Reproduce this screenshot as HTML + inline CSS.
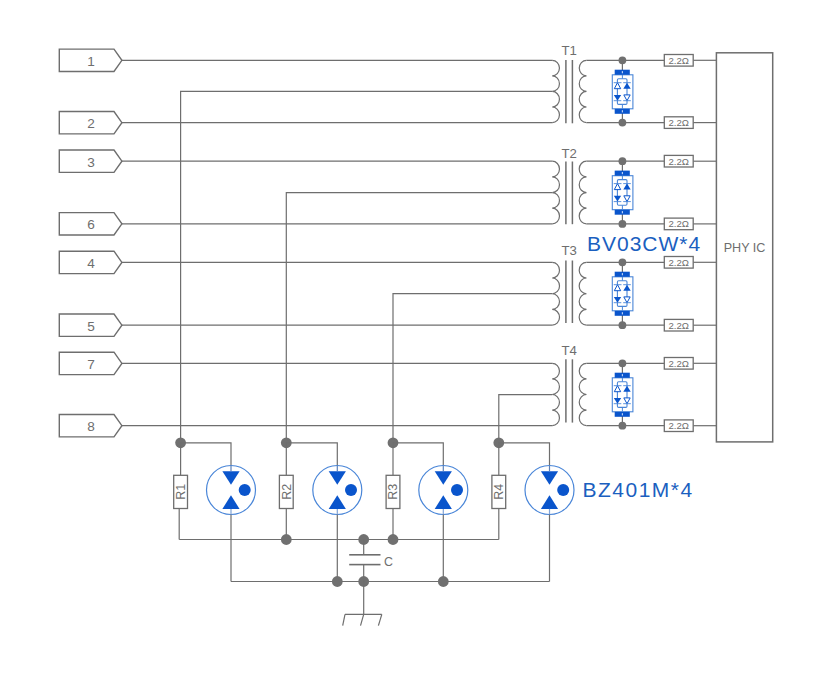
<!DOCTYPE html>
<html><head><meta charset="utf-8"><style>
html,body{margin:0;padding:0;background:#fff;}
body{width:832px;height:675px;overflow:hidden;}
svg{display:block;font-family:"Liberation Sans", sans-serif;}
</style></head><body>
<svg width="832" height="675" viewBox="0 0 832 675">
<rect width="832" height="675" fill="#fff"/>
<polygon points="59.3,49.09 114,49.09 121.9,60.3 114,71.5 59.3,71.5" fill="none" stroke="#6e6e6e" stroke-width="1.4"/>
<text x="91" y="65.8" font-size="13.6" fill="#6e6e6e" text-anchor="middle" >1</text>
<polygon points="59.3,111.5 114,111.5 121.9,122.7 114,133.9 59.3,133.9" fill="none" stroke="#6e6e6e" stroke-width="1.4"/>
<text x="91" y="128.2" font-size="13.6" fill="#6e6e6e" text-anchor="middle" >2</text>
<polygon points="59.3,150.0 114,150.0 121.9,161.2 114,172.39 59.3,172.39" fill="none" stroke="#6e6e6e" stroke-width="1.4"/>
<text x="91" y="166.7" font-size="13.6" fill="#6e6e6e" text-anchor="middle" >3</text>
<polygon points="59.3,212.60 114,212.60 121.9,223.8 114,235.0 59.3,235.0" fill="none" stroke="#6e6e6e" stroke-width="1.4"/>
<text x="91" y="229.3" font-size="13.6" fill="#6e6e6e" text-anchor="middle" >6</text>
<polygon points="59.3,251.2 114,251.2 121.9,262.4 114,273.59 59.3,273.59" fill="none" stroke="#6e6e6e" stroke-width="1.4"/>
<text x="91" y="267.9" font-size="13.6" fill="#6e6e6e" text-anchor="middle" >4</text>
<polygon points="59.3,314.0 114,314.0 121.9,325.2 114,336.4 59.3,336.4" fill="none" stroke="#6e6e6e" stroke-width="1.4"/>
<text x="91" y="330.7" font-size="13.6" fill="#6e6e6e" text-anchor="middle" >5</text>
<polygon points="59.3,352.2 114,352.2 121.9,363.4 114,374.59 59.3,374.59" fill="none" stroke="#6e6e6e" stroke-width="1.4"/>
<text x="91" y="368.9" font-size="13.6" fill="#6e6e6e" text-anchor="middle" >7</text>
<polygon points="59.3,414.5 114,414.5 121.9,425.7 114,436.9 59.3,436.9" fill="none" stroke="#6e6e6e" stroke-width="1.4"/>
<text x="91" y="431.2" font-size="13.6" fill="#6e6e6e" text-anchor="middle" >8</text>
<line x1="121.9" y1="60.3" x2="552.2" y2="60.3" stroke="#6e6e6e" stroke-width="1.2"/>
<line x1="121.9" y1="122.6" x2="552.2" y2="122.6" stroke="#6e6e6e" stroke-width="1.2"/>
<path d="M552.2,60.3 A7.24,7.78 0 0 1 552.2,75.87 A7.24,7.78 0 0 1 552.2,91.44 A7.24,7.78 0 0 1 552.2,107.02 A7.24,7.78 0 0 1 552.2,122.6" fill="none" stroke="#6e6e6e" stroke-width="1.2"/>
<path d="M586.5,60.3 A7.24,7.78 0 0 0 586.5,75.87 A7.24,7.78 0 0 0 586.5,91.44 A7.24,7.78 0 0 0 586.5,107.02 A7.24,7.78 0 0 0 586.5,122.6" fill="none" stroke="#6e6e6e" stroke-width="1.2"/>
<line x1="565.9" y1="60.0" x2="565.9" y2="123.3" stroke="#6e6e6e" stroke-width="1.5"/>
<line x1="572.4" y1="60.0" x2="572.4" y2="123.3" stroke="#6e6e6e" stroke-width="1.5"/>
<text x="569.2" y="55.2" font-size="13.2" fill="#6e6e6e" text-anchor="middle" >T1</text>
<polyline points="180.6,442.8 180.6,91.3 552.2,91.3" fill="none" stroke="#6e6e6e" stroke-width="1.2"/>
<line x1="586.5" y1="60.3" x2="664.3" y2="60.3" stroke="#6e6e6e" stroke-width="1.2"/>
<line x1="693.2" y1="60.3" x2="716.4" y2="60.3" stroke="#6e6e6e" stroke-width="1.2"/>
<rect x="664.3" y="54.5" width="28.9" height="11.6" fill="#fff" stroke="#6e6e6e" stroke-width="1.3"/>
<text x="678.8" y="63.8" font-size="9.6" fill="#6e6e6e" text-anchor="middle" >2.2Ω</text>
<line x1="586.5" y1="122.6" x2="664.3" y2="122.6" stroke="#6e6e6e" stroke-width="1.2"/>
<line x1="693.2" y1="122.6" x2="716.4" y2="122.6" stroke="#6e6e6e" stroke-width="1.2"/>
<rect x="664.3" y="116.8" width="28.9" height="11.6" fill="#fff" stroke="#6e6e6e" stroke-width="1.3"/>
<text x="678.8" y="126.1" font-size="9.6" fill="#6e6e6e" text-anchor="middle" >2.2Ω</text>
<line x1="622.4" y1="60.3" x2="622.4" y2="122.6" stroke="#6e6e6e" stroke-width="1.2"/>
<circle cx="622.4" cy="60.3" r="3.9" fill="#707070"/>
<circle cx="622.4" cy="122.6" r="3.9" fill="#707070"/>
<rect x="612.3" y="74.8" width="20.6" height="34.0" fill="#fff" stroke="#4a86d8" stroke-width="1.1"/>
<rect x="614.7" y="69.7" width="15.1" height="5.09" fill="#0a55cc"/>
<rect x="614.7" y="108.8" width="15.1" height="5.0" fill="#0a55cc"/>
<rect x="621.8" y="71.10" width="1.2" height="2.2" fill="#b8cff5"/>
<rect x="621.8" y="110.2" width="1.2" height="2.2" fill="#b8cff5"/>
<rect x="617.4" y="78.69" width="9.6" height="25.70" rx="1.2" fill="none" stroke="#4a86d8" stroke-width="1.1"/>
<line x1="622.4" y1="74.8" x2="622.4" y2="78.69" stroke="#4a86d8" stroke-width="1"/>
<line x1="622.4" y1="104.4" x2="622.4" y2="108.8" stroke="#4a86d8" stroke-width="1"/>
<polygon points="614.3,88.69 620.7,88.69 617.5,82.69" fill="#fff" stroke="#0a55cc" stroke-width="1"/>
<line x1="613.7" y1="82.69" x2="621.5" y2="82.69" stroke="#4a86d8" stroke-width="0.9"/>
<polygon points="623.3,88.69 630.7,88.69 627.0,82.69" fill="#0a55cc"/>
<line x1="623.2" y1="82.69" x2="630.8" y2="82.69" stroke="#4a86d8" stroke-width="0.9"/>
<polygon points="613.8,94.9 621.2,94.9 617.5,100.69" fill="#0a55cc"/>
<line x1="613.7" y1="100.69" x2="621.3" y2="100.69" stroke="#4a86d8" stroke-width="0.9"/>
<polygon points="623.8,94.9 630.2,94.9 627.0,100.69" fill="#fff" stroke="#0a55cc" stroke-width="1"/>
<line x1="623.2" y1="100.69" x2="630.8" y2="100.69" stroke="#4a86d8" stroke-width="0.9"/>
<line x1="121.9" y1="161.2" x2="552.2" y2="161.2" stroke="#6e6e6e" stroke-width="1.2"/>
<line x1="121.9" y1="223.9" x2="552.2" y2="223.9" stroke="#6e6e6e" stroke-width="1.2"/>
<path d="M552.2,161.2 A7.28,7.83 0 0 1 552.2,176.87 A7.28,7.83 0 0 1 552.2,192.55 A7.28,7.83 0 0 1 552.2,208.22 A7.28,7.83 0 0 1 552.2,223.9" fill="none" stroke="#6e6e6e" stroke-width="1.2"/>
<path d="M586.5,161.2 A7.28,7.83 0 0 0 586.5,176.87 A7.28,7.83 0 0 0 586.5,192.55 A7.28,7.83 0 0 0 586.5,208.22 A7.28,7.83 0 0 0 586.5,223.9" fill="none" stroke="#6e6e6e" stroke-width="1.2"/>
<line x1="565.9" y1="161.5" x2="565.9" y2="224.2" stroke="#6e6e6e" stroke-width="1.5"/>
<line x1="572.4" y1="161.5" x2="572.4" y2="224.2" stroke="#6e6e6e" stroke-width="1.5"/>
<text x="569.2" y="157.6" font-size="13.2" fill="#6e6e6e" text-anchor="middle" >T2</text>
<polyline points="286.3,442.8 286.3,192.6 552.2,192.6" fill="none" stroke="#6e6e6e" stroke-width="1.2"/>
<line x1="586.5" y1="161.2" x2="664.3" y2="161.2" stroke="#6e6e6e" stroke-width="1.2"/>
<line x1="693.2" y1="161.2" x2="716.4" y2="161.2" stroke="#6e6e6e" stroke-width="1.2"/>
<rect x="664.3" y="155.39" width="28.9" height="11.6" fill="#fff" stroke="#6e6e6e" stroke-width="1.3"/>
<text x="678.8" y="164.7" font-size="9.6" fill="#6e6e6e" text-anchor="middle" >2.2Ω</text>
<line x1="586.5" y1="223.9" x2="664.3" y2="223.9" stroke="#6e6e6e" stroke-width="1.2"/>
<line x1="693.2" y1="223.9" x2="716.4" y2="223.9" stroke="#6e6e6e" stroke-width="1.2"/>
<rect x="664.3" y="218.1" width="28.9" height="11.6" fill="#fff" stroke="#6e6e6e" stroke-width="1.3"/>
<text x="678.8" y="227.4" font-size="9.6" fill="#6e6e6e" text-anchor="middle" >2.2Ω</text>
<line x1="622.4" y1="161.2" x2="622.4" y2="223.9" stroke="#6e6e6e" stroke-width="1.2"/>
<circle cx="622.4" cy="161.2" r="3.9" fill="#707070"/>
<circle cx="622.4" cy="223.9" r="3.9" fill="#707070"/>
<rect x="612.3" y="175.7" width="20.6" height="34.0" fill="#fff" stroke="#4a86d8" stroke-width="1.1"/>
<rect x="614.7" y="170.6" width="15.1" height="5.09" fill="#0a55cc"/>
<rect x="614.7" y="209.7" width="15.1" height="5.0" fill="#0a55cc"/>
<rect x="621.8" y="172.0" width="1.2" height="2.2" fill="#b8cff5"/>
<rect x="621.8" y="211.1" width="1.2" height="2.2" fill="#b8cff5"/>
<rect x="617.4" y="179.6" width="9.6" height="25.69" rx="1.2" fill="none" stroke="#4a86d8" stroke-width="1.1"/>
<line x1="622.4" y1="175.7" x2="622.4" y2="179.6" stroke="#4a86d8" stroke-width="1"/>
<line x1="622.4" y1="205.29" x2="622.4" y2="209.7" stroke="#4a86d8" stroke-width="1"/>
<polygon points="614.3,189.6 620.7,189.6 617.5,183.6" fill="#fff" stroke="#0a55cc" stroke-width="1"/>
<line x1="613.7" y1="183.6" x2="621.5" y2="183.6" stroke="#4a86d8" stroke-width="0.9"/>
<polygon points="623.3,189.6 630.7,189.6 627.0,183.6" fill="#0a55cc"/>
<line x1="623.2" y1="183.6" x2="630.8" y2="183.6" stroke="#4a86d8" stroke-width="0.9"/>
<polygon points="613.8,195.79 621.2,195.79 617.5,201.6" fill="#0a55cc"/>
<line x1="613.7" y1="201.6" x2="621.3" y2="201.6" stroke="#4a86d8" stroke-width="0.9"/>
<polygon points="623.8,195.79 630.2,195.79 627.0,201.6" fill="#fff" stroke="#0a55cc" stroke-width="1"/>
<line x1="623.2" y1="201.6" x2="630.8" y2="201.6" stroke="#4a86d8" stroke-width="0.9"/>
<line x1="121.9" y1="262.3" x2="552.2" y2="262.3" stroke="#6e6e6e" stroke-width="1.2"/>
<line x1="121.9" y1="325.2" x2="552.2" y2="325.2" stroke="#6e6e6e" stroke-width="1.2"/>
<path d="M552.2,262.3 A7.31,7.86 0 0 1 552.2,278.02 A7.31,7.86 0 0 1 552.2,293.75 A7.31,7.86 0 0 1 552.2,309.47 A7.31,7.86 0 0 1 552.2,325.2" fill="none" stroke="#6e6e6e" stroke-width="1.2"/>
<path d="M586.5,262.3 A7.31,7.86 0 0 0 586.5,278.02 A7.31,7.86 0 0 0 586.5,293.75 A7.31,7.86 0 0 0 586.5,309.47 A7.31,7.86 0 0 0 586.5,325.2" fill="none" stroke="#6e6e6e" stroke-width="1.2"/>
<line x1="565.9" y1="260.5" x2="565.9" y2="323.0" stroke="#6e6e6e" stroke-width="1.5"/>
<line x1="572.4" y1="260.5" x2="572.4" y2="323.0" stroke="#6e6e6e" stroke-width="1.5"/>
<text x="569.2" y="255.2" font-size="13.2" fill="#6e6e6e" text-anchor="middle" >T3</text>
<polyline points="393.0,442.8 393.0,293.6 552.2,293.6" fill="none" stroke="#6e6e6e" stroke-width="1.2"/>
<line x1="586.5" y1="262.3" x2="664.3" y2="262.3" stroke="#6e6e6e" stroke-width="1.2"/>
<line x1="693.2" y1="262.3" x2="716.4" y2="262.3" stroke="#6e6e6e" stroke-width="1.2"/>
<rect x="664.3" y="256.5" width="28.9" height="11.6" fill="#fff" stroke="#6e6e6e" stroke-width="1.3"/>
<text x="678.8" y="265.8" font-size="9.6" fill="#6e6e6e" text-anchor="middle" >2.2Ω</text>
<line x1="586.5" y1="325.2" x2="664.3" y2="325.2" stroke="#6e6e6e" stroke-width="1.2"/>
<line x1="693.2" y1="325.2" x2="716.4" y2="325.2" stroke="#6e6e6e" stroke-width="1.2"/>
<rect x="664.3" y="319.4" width="28.9" height="11.6" fill="#fff" stroke="#6e6e6e" stroke-width="1.3"/>
<text x="678.8" y="328.7" font-size="9.6" fill="#6e6e6e" text-anchor="middle" >2.2Ω</text>
<line x1="622.4" y1="262.3" x2="622.4" y2="325.2" stroke="#6e6e6e" stroke-width="1.2"/>
<circle cx="622.4" cy="262.3" r="3.9" fill="#707070"/>
<circle cx="622.4" cy="325.2" r="3.9" fill="#707070"/>
<rect x="612.3" y="276.8" width="20.6" height="34.0" fill="#fff" stroke="#4a86d8" stroke-width="1.1"/>
<rect x="614.7" y="271.7" width="15.1" height="5.10" fill="#0a55cc"/>
<rect x="614.7" y="310.8" width="15.1" height="5.0" fill="#0a55cc"/>
<rect x="621.8" y="273.09" width="1.2" height="2.2" fill="#b8cff5"/>
<rect x="621.8" y="312.2" width="1.2" height="2.2" fill="#b8cff5"/>
<rect x="617.4" y="280.7" width="9.6" height="25.70" rx="1.2" fill="none" stroke="#4a86d8" stroke-width="1.1"/>
<line x1="622.4" y1="276.8" x2="622.4" y2="280.7" stroke="#4a86d8" stroke-width="1"/>
<line x1="622.4" y1="306.40" x2="622.4" y2="310.8" stroke="#4a86d8" stroke-width="1"/>
<polygon points="614.3,290.7 620.7,290.7 617.5,284.7" fill="#fff" stroke="#0a55cc" stroke-width="1"/>
<line x1="613.7" y1="284.7" x2="621.5" y2="284.7" stroke="#4a86d8" stroke-width="0.9"/>
<polygon points="623.3,290.7 630.7,290.7 627.0,284.7" fill="#0a55cc"/>
<line x1="623.2" y1="284.7" x2="630.8" y2="284.7" stroke="#4a86d8" stroke-width="0.9"/>
<polygon points="613.8,296.90 621.2,296.90 617.5,302.7" fill="#0a55cc"/>
<line x1="613.7" y1="302.7" x2="621.3" y2="302.7" stroke="#4a86d8" stroke-width="0.9"/>
<polygon points="623.8,296.90 630.2,296.90 627.0,302.7" fill="#fff" stroke="#0a55cc" stroke-width="1"/>
<line x1="623.2" y1="302.7" x2="630.8" y2="302.7" stroke="#4a86d8" stroke-width="0.9"/>
<line x1="121.9" y1="363.3" x2="552.2" y2="363.3" stroke="#6e6e6e" stroke-width="1.2"/>
<line x1="121.9" y1="425.7" x2="552.2" y2="425.7" stroke="#6e6e6e" stroke-width="1.2"/>
<path d="M552.2,363.3 A7.25,7.79 0 0 1 552.2,378.9 A7.25,7.79 0 0 1 552.2,394.5 A7.25,7.79 0 0 1 552.2,410.1 A7.25,7.79 0 0 1 552.2,425.7" fill="none" stroke="#6e6e6e" stroke-width="1.2"/>
<path d="M586.5,363.3 A7.25,7.79 0 0 0 586.5,378.9 A7.25,7.79 0 0 0 586.5,394.5 A7.25,7.79 0 0 0 586.5,410.1 A7.25,7.79 0 0 0 586.5,425.7" fill="none" stroke="#6e6e6e" stroke-width="1.2"/>
<line x1="565.9" y1="359.3" x2="565.9" y2="422.6" stroke="#6e6e6e" stroke-width="1.5"/>
<line x1="572.4" y1="359.3" x2="572.4" y2="422.6" stroke="#6e6e6e" stroke-width="1.5"/>
<text x="569.2" y="355.40" font-size="13.2" fill="#6e6e6e" text-anchor="middle" >T4</text>
<polyline points="498.8,442.8 498.8,394.6 552.2,394.6" fill="none" stroke="#6e6e6e" stroke-width="1.2"/>
<line x1="586.5" y1="363.3" x2="664.3" y2="363.3" stroke="#6e6e6e" stroke-width="1.2"/>
<line x1="693.2" y1="363.3" x2="716.4" y2="363.3" stroke="#6e6e6e" stroke-width="1.2"/>
<rect x="664.3" y="357.5" width="28.9" height="11.6" fill="#fff" stroke="#6e6e6e" stroke-width="1.3"/>
<text x="678.8" y="366.8" font-size="9.6" fill="#6e6e6e" text-anchor="middle" >2.2Ω</text>
<line x1="586.5" y1="425.7" x2="664.3" y2="425.7" stroke="#6e6e6e" stroke-width="1.2"/>
<line x1="693.2" y1="425.7" x2="716.4" y2="425.7" stroke="#6e6e6e" stroke-width="1.2"/>
<rect x="664.3" y="419.9" width="28.9" height="11.6" fill="#fff" stroke="#6e6e6e" stroke-width="1.3"/>
<text x="678.8" y="429.2" font-size="9.6" fill="#6e6e6e" text-anchor="middle" >2.2Ω</text>
<line x1="622.4" y1="363.3" x2="622.4" y2="425.7" stroke="#6e6e6e" stroke-width="1.2"/>
<circle cx="622.4" cy="363.3" r="3.9" fill="#707070"/>
<circle cx="622.4" cy="425.7" r="3.9" fill="#707070"/>
<rect x="612.3" y="377.8" width="20.6" height="34.0" fill="#fff" stroke="#4a86d8" stroke-width="1.1"/>
<rect x="614.7" y="372.7" width="15.1" height="5.10" fill="#0a55cc"/>
<rect x="614.7" y="411.8" width="15.1" height="5.0" fill="#0a55cc"/>
<rect x="621.8" y="374.09" width="1.2" height="2.2" fill="#b8cff5"/>
<rect x="621.8" y="413.2" width="1.2" height="2.2" fill="#b8cff5"/>
<rect x="617.4" y="381.7" width="9.6" height="25.70" rx="1.2" fill="none" stroke="#4a86d8" stroke-width="1.1"/>
<line x1="622.4" y1="377.8" x2="622.4" y2="381.7" stroke="#4a86d8" stroke-width="1"/>
<line x1="622.4" y1="407.40" x2="622.4" y2="411.8" stroke="#4a86d8" stroke-width="1"/>
<polygon points="614.3,391.7 620.7,391.7 617.5,385.7" fill="#fff" stroke="#0a55cc" stroke-width="1"/>
<line x1="613.7" y1="385.7" x2="621.5" y2="385.7" stroke="#4a86d8" stroke-width="0.9"/>
<polygon points="623.3,391.7 630.7,391.7 627.0,385.7" fill="#0a55cc"/>
<line x1="623.2" y1="385.7" x2="630.8" y2="385.7" stroke="#4a86d8" stroke-width="0.9"/>
<polygon points="613.8,397.90 621.2,397.90 617.5,403.7" fill="#0a55cc"/>
<line x1="613.7" y1="403.7" x2="621.3" y2="403.7" stroke="#4a86d8" stroke-width="0.9"/>
<polygon points="623.8,397.90 630.2,397.90 627.0,403.7" fill="#fff" stroke="#0a55cc" stroke-width="1"/>
<line x1="623.2" y1="403.7" x2="630.8" y2="403.7" stroke="#4a86d8" stroke-width="0.9"/>
<rect x="716.4" y="52.8" width="56.3" height="389.1" fill="none" stroke="#6e6e6e" stroke-width="1.5"/>
<text x="744.6" y="251.8" font-size="12.6" fill="#6e6e6e" text-anchor="middle" >PHY IC</text>
<text x="587.0" y="251.4" font-size="21" fill="#1b5fbf" text-anchor="start" letter-spacing="1.0">BV03CW*4</text>
<circle cx="180.6" cy="442.8" r="5.4" fill="#707070"/>
<polyline points="180.6,442.8 231.0,442.8 231.0,465.5" fill="none" stroke="#6e6e6e" stroke-width="1.2"/>
<line x1="180.6" y1="442.8" x2="180.6" y2="475.3" stroke="#6e6e6e" stroke-width="1.2"/>
<line x1="179.2" y1="508.5" x2="179.2" y2="539.5" stroke="#6e6e6e" stroke-width="1.2"/>
<rect x="173.7" y="475.3" width="13.8" height="33.2" fill="#fff" stroke="#6e6e6e" stroke-width="1.3"/>
<text x="0" y="0" font-size="12.5" fill="#6e6e6e" text-anchor="middle" transform="translate(185.0,491.7) rotate(-90)">R1</text>
<circle cx="231.0" cy="490" r="24.5" fill="#fff" stroke="#4a86d8" stroke-width="1.2"/>
<polygon points="222.4,471.3 239.6,471.3 231.0,484.7" fill="#0a55cc"/>
<polygon points="222.4,508.9 239.6,508.9 231.0,495.3" fill="#0a55cc"/>
<circle cx="244.7" cy="490" r="6.0" fill="#0a55cc"/>
<line x1="231.0" y1="465.5" x2="231.0" y2="471.3" stroke="#5a7fb8" stroke-width="1.2"/>
<line x1="231.0" y1="508.9" x2="231.0" y2="514.5" stroke="#7fa3d8" stroke-width="1.2"/>
<polyline points="231.0,514.5 231.0,581.5" fill="none" stroke="#6e6e6e" stroke-width="1.2"/>
<circle cx="286.3" cy="442.8" r="5.4" fill="#707070"/>
<polyline points="286.3,442.8 337.3,442.8 337.3,465.5" fill="none" stroke="#6e6e6e" stroke-width="1.2"/>
<line x1="286.3" y1="442.8" x2="286.3" y2="475.3" stroke="#6e6e6e" stroke-width="1.2"/>
<line x1="286.3" y1="508.5" x2="286.3" y2="539.5" stroke="#6e6e6e" stroke-width="1.2"/>
<rect x="279.40" y="475.3" width="13.8" height="33.2" fill="#fff" stroke="#6e6e6e" stroke-width="1.3"/>
<text x="0" y="0" font-size="12.5" fill="#6e6e6e" text-anchor="middle" transform="translate(290.7,491.7) rotate(-90)">R2</text>
<circle cx="337.3" cy="490" r="24.5" fill="#fff" stroke="#4a86d8" stroke-width="1.2"/>
<polygon points="328.7,471.3 345.90,471.3 337.3,484.7" fill="#0a55cc"/>
<polygon points="328.7,508.9 345.90,508.9 337.3,495.3" fill="#0a55cc"/>
<circle cx="351.0" cy="490" r="6.0" fill="#0a55cc"/>
<line x1="337.3" y1="465.5" x2="337.3" y2="471.3" stroke="#5a7fb8" stroke-width="1.2"/>
<line x1="337.3" y1="508.9" x2="337.3" y2="514.5" stroke="#7fa3d8" stroke-width="1.2"/>
<polyline points="337.3,514.5 337.3,581.5" fill="none" stroke="#6e6e6e" stroke-width="1.2"/>
<circle cx="393.0" cy="442.8" r="5.4" fill="#707070"/>
<polyline points="393.0,442.8 443.3,442.8 443.3,465.5" fill="none" stroke="#6e6e6e" stroke-width="1.2"/>
<line x1="393.0" y1="442.8" x2="393.0" y2="475.3" stroke="#6e6e6e" stroke-width="1.2"/>
<line x1="393.0" y1="508.5" x2="393.0" y2="539.5" stroke="#6e6e6e" stroke-width="1.2"/>
<rect x="386.1" y="475.3" width="13.8" height="33.2" fill="#fff" stroke="#6e6e6e" stroke-width="1.3"/>
<text x="0" y="0" font-size="12.5" fill="#6e6e6e" text-anchor="middle" transform="translate(397.4,491.7) rotate(-90)">R3</text>
<circle cx="443.3" cy="490" r="24.5" fill="#fff" stroke="#4a86d8" stroke-width="1.2"/>
<polygon points="434.7,471.3 451.90,471.3 443.3,484.7" fill="#0a55cc"/>
<polygon points="434.7,508.9 451.90,508.9 443.3,495.3" fill="#0a55cc"/>
<circle cx="457.0" cy="490" r="6.0" fill="#0a55cc"/>
<line x1="443.3" y1="465.5" x2="443.3" y2="471.3" stroke="#5a7fb8" stroke-width="1.2"/>
<line x1="443.3" y1="508.9" x2="443.3" y2="514.5" stroke="#7fa3d8" stroke-width="1.2"/>
<polyline points="443.3,514.5 443.3,581.5" fill="none" stroke="#6e6e6e" stroke-width="1.2"/>
<circle cx="498.8" cy="442.8" r="5.4" fill="#707070"/>
<polyline points="498.8,442.8 549.5,442.8 549.5,465.5" fill="none" stroke="#6e6e6e" stroke-width="1.2"/>
<line x1="498.8" y1="442.8" x2="498.8" y2="475.3" stroke="#6e6e6e" stroke-width="1.2"/>
<line x1="498.8" y1="508.5" x2="498.8" y2="539.5" stroke="#6e6e6e" stroke-width="1.2"/>
<rect x="491.90" y="475.3" width="13.8" height="33.2" fill="#fff" stroke="#6e6e6e" stroke-width="1.3"/>
<text x="0" y="0" font-size="12.5" fill="#6e6e6e" text-anchor="middle" transform="translate(503.2,491.7) rotate(-90)">R4</text>
<circle cx="549.5" cy="490" r="24.5" fill="#fff" stroke="#4a86d8" stroke-width="1.2"/>
<polygon points="540.9,471.3 558.1,471.3 549.5,484.7" fill="#0a55cc"/>
<polygon points="540.9,508.9 558.1,508.9 549.5,495.3" fill="#0a55cc"/>
<circle cx="563.2" cy="490" r="6.0" fill="#0a55cc"/>
<line x1="549.5" y1="465.5" x2="549.5" y2="471.3" stroke="#5a7fb8" stroke-width="1.2"/>
<line x1="549.5" y1="508.9" x2="549.5" y2="514.5" stroke="#7fa3d8" stroke-width="1.2"/>
<polyline points="549.5,514.5 549.5,581.5" fill="none" stroke="#6e6e6e" stroke-width="1.2"/>
<line x1="179.2" y1="539.5" x2="498.8" y2="539.5" stroke="#6e6e6e" stroke-width="1.2"/>
<line x1="231.0" y1="581.5" x2="549.5" y2="581.5" stroke="#6e6e6e" stroke-width="1.2"/>
<circle cx="286.3" cy="539.5" r="5.4" fill="#707070"/>
<circle cx="393.0" cy="539.5" r="5.4" fill="#707070"/>
<circle cx="363.7" cy="539.5" r="5.4" fill="#707070"/>
<circle cx="337.3" cy="581.5" r="5.4" fill="#707070"/>
<circle cx="443.3" cy="581.5" r="5.4" fill="#707070"/>
<circle cx="363.7" cy="581.5" r="5.4" fill="#707070"/>
<text x="555" y="497" font-size="20" fill="#6e6e6e" text-anchor="middle" ></text>
<text x="582.5" y="497.3" font-size="21" fill="#1b5fbf" text-anchor="start" letter-spacing="1.5">BZ401M*4</text>
<line x1="363.7" y1="539.5" x2="363.7" y2="554.8" stroke="#6e6e6e" stroke-width="1.2"/>
<line x1="349.2" y1="554.8" x2="380.5" y2="554.8" stroke="#6e6e6e" stroke-width="1.6"/>
<line x1="349.2" y1="564.6" x2="380.5" y2="564.6" stroke="#6e6e6e" stroke-width="1.6"/>
<line x1="363.7" y1="564.6" x2="363.7" y2="581.5" stroke="#6e6e6e" stroke-width="1.2"/>
<text x="388.5" y="565.7" font-size="12.4" fill="#6e6e6e" text-anchor="middle" >C</text>
<line x1="363.7" y1="581.5" x2="363.7" y2="614.3" stroke="#6e6e6e" stroke-width="1.2"/>
<line x1="345" y1="614.3" x2="381.8" y2="614.3" stroke="#6e6e6e" stroke-width="1.2"/>
<line x1="345" y1="614.3" x2="342.7" y2="625.6" stroke="#6e6e6e" stroke-width="1.2"/>
<line x1="363.7" y1="614.3" x2="360.5" y2="625.6" stroke="#6e6e6e" stroke-width="1.2"/>
<line x1="381.8" y1="614.3" x2="378.4" y2="625.6" stroke="#6e6e6e" stroke-width="1.2"/>
</svg>
</body></html>
